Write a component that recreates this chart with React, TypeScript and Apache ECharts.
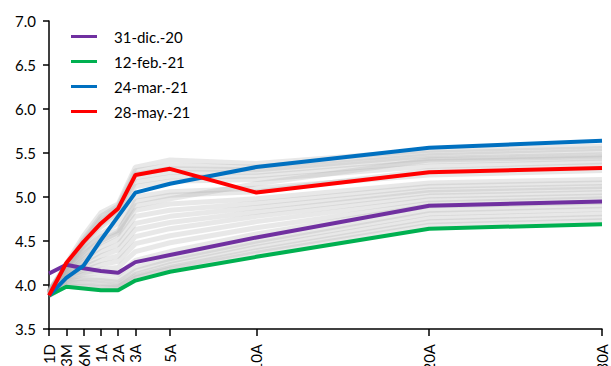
import React, { useEffect, useRef } from "react";
import * as echarts from "echarts";

const tenors = ["1D", "3M", "6M", "1A", "2A", "3A", "5A", "10A", "20A", "30A"];
const tenorPositions = [0, 1, 2, 3, 4, 5, 7, 12, 22, 32];

const seriesNames = ["31-dic.-20", "12-feb.-21", "24-mar.-21", "28-may.-21"];
const dic20 = [4.13, 4.23, 4.19, 4.16, 4.14, 4.26, 4.34, 4.54, 4.9, 4.95];
const feb21 = [3.88, 3.98, 3.96, 3.94, 3.94, 4.05, 4.15, 4.32, 4.64, 4.69];
const mar21 = [3.88, 4.08, 4.22, 4.51, 4.78, 5.05, 5.15, 5.34, 5.56, 5.64];
const may21 = [3.88, 4.25, 4.49, 4.7, 4.87, 5.25, 5.32, 5.05, 5.28, 5.33];

const historyCurves = [
  [3.88, 3.99, 3.98, 3.97, 3.97, 4.08, 4.18, 4.36, 4.68, 4.73],
  [3.88, 4.0, 4.0, 3.99, 3.98, 4.1, 4.2, 4.39, 4.72, 4.77],
  [3.88, 4.02, 4.03, 4.02, 4.0, 4.12, 4.23, 4.43, 4.76, 4.81],
  [3.89, 4.04, 4.06, 4.05, 4.03, 4.16, 4.27, 4.47, 4.81, 4.86],
  [3.89, 4.05, 4.08, 4.08, 4.06, 4.2, 4.3, 4.5, 4.85, 4.9],
  [3.9, 4.06, 4.12, 4.14, 4.12, 4.28, 4.38, 4.58, 4.9, 4.94],
  [3.89, 4.08, 4.14, 4.18, 4.2, 4.38, 4.48, 4.65, 4.93, 4.98],
  [3.9, 4.09, 4.17, 4.23, 4.27, 4.47, 4.56, 4.72, 4.97, 5.01],
  [3.9, 4.1, 4.2, 4.28, 4.33, 4.55, 4.64, 4.78, 5.01, 5.05],
  [3.9, 4.11, 4.23, 4.33, 4.4, 4.63, 4.71, 4.83, 5.05, 5.09],
  [3.9, 4.12, 4.26, 4.38, 4.46, 4.7, 4.78, 4.88, 5.08, 5.12],
  [3.91, 4.13, 4.29, 4.43, 4.52, 4.78, 4.85, 4.93, 5.12, 5.16],
  [3.91, 4.14, 4.32, 4.48, 4.58, 4.85, 4.92, 4.98, 5.16, 5.2],
  [3.91, 4.15, 4.35, 4.5, 4.6, 4.95, 5.02, 5.06, 5.3, 5.36],
  [3.91, 4.16, 4.38, 4.58, 4.7, 5.0, 5.06, 5.1, 5.25, 5.3],
  [3.92, 4.2, 4.4, 4.55, 4.62, 4.9, 4.98, 5.15, 5.42, 5.46],
  [3.92, 4.18, 4.44, 4.66, 4.8, 5.12, 5.18, 5.2, 5.35, 5.4],
  [3.92, 4.19, 4.46, 4.69, 4.83, 5.17, 5.23, 5.24, 5.4, 5.44],
  [3.92, 4.2, 4.48, 4.72, 4.86, 5.22, 5.28, 5.28, 5.44, 5.48],
  [3.93, 4.21, 4.5, 4.75, 4.88, 5.26, 5.32, 5.31, 5.47, 5.52],
  [3.93, 4.22, 4.52, 4.78, 4.9, 5.3, 5.36, 5.34, 5.5, 5.55],
  [3.93, 4.24, 4.56, 4.82, 4.92, 5.34, 5.42, 5.38, 5.53, 5.58],
];

const colors = ["#7030A0", "#00B050", "#0070C0", "#FF0000"];
const FONT = "Lato";

function toPoints(values: number[]) {
  return values.map((v, i) => [tenorPositions[i], v]);
}

export default function App() {
  const ref = useRef<HTMLDivElement>(null);
  useEffect(() => {
    document.body.style.margin = "0";
    if (!ref.current) return;
    const chart = echarts.init(ref.current, undefined, { renderer: "svg" });
    const mains = [dic20, feb21, mar21, may21];
    const gray = historyCurves.map((c, i) => ({
      name: "hist" + i,
      type: "line",
      data: toPoints(c),
      showSymbol: false,
      silent: true,
      lineStyle: { color: "rgba(180,180,180,0.3)", width: 5 },
      z: 1,
    }));
    const main = mains.map((vals, i) => ({
      name: seriesNames[i],
      type: "line",
      data: toPoints(vals),
      showSymbol: false,
      color: colors[i],
      lineStyle: { color: colors[i], width: 4 },
      z: 2 + i,
    }));
    chart.setOption({
      animation: false,
      grid: {
        left: 49,
        right: 9,
        top: 21,
        bottom: 37,
        containLabel: false,
        outerBoundsMode: "none",
      },
      legend: {
        data: seriesNames,
        orient: "vertical",
        left: 66,
        top: 24,
        itemWidth: 26,
        itemHeight: 3,
        itemGap: 10,
        icon: "rect",
        textStyle: { fontFamily: FONT, fontSize: 15, color: "#000", padding: [0, 0, 0, 12] },
      },
      xAxis: {
        type: "value",
        min: 0,
        max: 32,
        splitLine: { show: false },
        axisLine: { lineStyle: { color: "#000", width: 1.5 } },
        axisTick: {
          show: true,
          length: 7,
          customValues: tenorPositions,
          lineStyle: { color: "#000", width: 1.5 },
        },
        axisLabel: {
          customValues: tenorPositions,
          rotate: 90,
          margin: 15,
          fontFamily: FONT,
          fontSize: 15,
          color: "#000",
          formatter: (v: number) => {
            const idx = tenorPositions.indexOf(v);
            return idx >= 0 ? tenors[idx] : "";
          },
        },
      },
      yAxis: {
        type: "value",
        min: 3.5,
        max: 7,
        interval: 0.5,
        splitLine: { show: false },
        axisLine: { show: true, lineStyle: { color: "#000", width: 1.5 } },
        axisTick: { show: true, length: 6, lineStyle: { color: "#000", width: 1.5 } },
        axisLabel: {
          margin: 13,
          fontFamily: FONT,
          fontSize: 15,
          color: "#000",
          formatter: (v: number) => v.toFixed(1),
        },
      },
      series: [...gray, ...main],
    });
    return () => chart.dispose();
  }, []);
  return <div ref={ref} style={{ width: 611, height: 366 }} />;
}
